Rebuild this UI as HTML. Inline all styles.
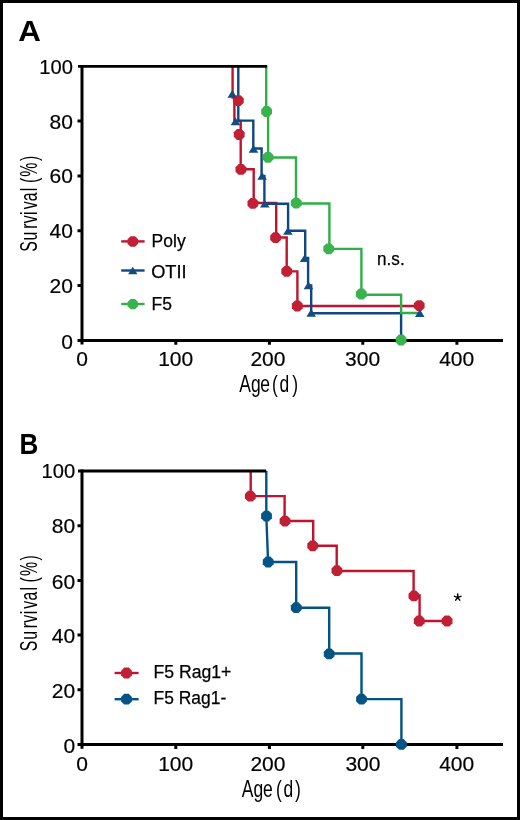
<!DOCTYPE html>
<html><head><meta charset="utf-8">
<style>
html,body{margin:0;padding:0;background:#fff;}
body{width:520px;height:820px;overflow:hidden;position:relative;}
svg{position:absolute;left:0;top:0;will-change:transform;}
text{font-family:"Liberation Sans",sans-serif;fill:#000;}
</style></head><body>
<svg width="520" height="820" viewBox="0 0 520 820">
<rect x="1.5" y="1.5" width="517" height="817" fill="#fff" stroke="#000" stroke-width="3"/>

<!-- ============ PANEL A ============ -->
<text transform="translate(18.3,41) scale(1.12,1.05)" font-size="28" font-weight="bold">A</text>

<!-- axes A -->
<g stroke="#000" stroke-width="3" fill="none" stroke-linecap="butt">
  <path d="M82,64.9 V344.6"/>
  <path d="M82,340.4 H503"/>
  <path d="M77.5,121.1 H82 M77.5,175.9 H82 M77.5,230.7 H82 M77.5,285.5 H82 M77.5,340.4 H82"/>
  <path d="M175.8,340.4 V344.8 M269.4,340.4 V344.8 M362.8,340.4 V344.8 M456.9,340.4 V344.8"/>
</g>
<!-- curves A -->
<g fill="none" stroke-width="2.4" stroke-linejoin="miter" stroke-linecap="butt">
  <path stroke="#BD1530" d="M232.6,66.3 V97.5 H234.4 V121 H240.7 V169.2 H253.7 V203 H276.2 V237.5 H286.7 V271.4 H297.4 V306 H419.2"/>
  <path stroke="#0F4780" d="M238.3,66.3 V120.6 H253.3 V148.5 H261.6 V176 H264.4 V203.7 H288.1 V230.7 H305.2 V258 H308.1 V285.5 H311.2 V313.2 H401.1 V340.4"/>
  <path stroke="#2FAF46" d="M266.2,66.3 V112 H268.1 V157.5 H296 V203.5 H329.4 V248.9 H361.4 V294.8 H401.1 V313 H419"/>
</g>
<!-- symbols A -->
<g fill="#3AB34E">
  <path d="M272.00,113.74 L268.84,116.90 L264.36,116.90 L261.20,113.74 L261.20,109.26 L264.36,106.10 L268.84,106.10 L272.00,109.26 Z"/><path d="M273.40,159.54 L270.24,162.70 L265.76,162.70 L262.60,159.54 L262.60,155.06 L265.76,151.90 L270.24,151.90 L273.40,155.06 Z"/><path d="M301.60,205.34 L298.44,208.50 L293.96,208.50 L290.80,205.34 L290.80,200.86 L293.96,197.70 L298.44,197.70 L301.60,200.86 Z"/>
  <path d="M334.10,251.04 L330.94,254.20 L326.46,254.20 L323.30,251.04 L323.30,246.56 L326.46,243.40 L330.94,243.40 L334.10,246.56 Z"/><path d="M366.70,296.24 L363.54,299.40 L359.06,299.40 L355.90,296.24 L355.90,291.76 L359.06,288.60 L363.54,288.60 L366.70,291.76 Z"/><path d="M406.50,342.24 L403.34,345.40 L398.86,345.40 L395.70,342.24 L395.70,337.76 L398.86,334.60 L403.34,334.60 L406.50,337.76 Z"/>
</g>
<g fill="#C11F33">
  <path d="M243.70,102.84 L240.54,106.00 L236.06,106.00 L232.90,102.84 L232.90,98.36 L236.06,95.20 L240.54,95.20 L243.70,98.36 Z"/><path d="M244.60,136.74 L241.44,139.90 L236.96,139.90 L233.80,136.74 L233.80,132.26 L236.96,129.10 L241.44,129.10 L244.60,132.26 Z"/><path d="M246.30,171.64 L243.14,174.80 L238.66,174.80 L235.50,171.64 L235.50,167.16 L238.66,164.00 L243.14,164.00 L246.30,167.16 Z"/>
  <path d="M258.30,205.64 L255.14,208.80 L250.66,208.80 L247.50,205.64 L247.50,201.16 L250.66,198.00 L255.14,198.00 L258.30,201.16 Z"/><path d="M281.00,239.94 L277.84,243.10 L273.36,243.10 L270.20,239.94 L270.20,235.46 L273.36,232.30 L277.84,232.30 L281.00,235.46 Z"/><path d="M292.10,273.54 L288.94,276.70 L284.46,276.70 L281.30,273.54 L281.30,269.06 L284.46,265.90 L288.94,265.90 L292.10,269.06 Z"/>
  <path d="M302.70,308.24 L299.54,311.40 L295.06,311.40 L291.90,308.24 L291.90,303.76 L295.06,300.60 L299.54,300.60 L302.70,303.76 Z"/><path d="M424.60,307.84 L421.44,311.00 L416.96,311.00 L413.80,307.84 L413.80,303.36 L416.96,300.20 L421.44,300.20 L424.60,303.36 Z"/>
</g>
<g fill="#124C83">
  <path d="M232.3,90.1 L237.1,97.7 L227.5,97.7 Z"/>
  <path d="M235.5,117.6 L240.3,125.2 L230.7,125.2 Z"/>
  <path d="M253.5,145.1 L258.3,152.7 L248.7,152.7 Z"/>
  <path d="M262.1,172.2 L266.9,179.8 L257.3,179.8 Z"/>
  <path d="M264.8,199.9 L269.6,207.5 L260.0,207.5 Z"/>
  <path d="M287.9,227.2 L292.7,234.8 L283.1,234.8 Z"/>
  <path d="M304.6,254.5 L309.4,262.1 L299.8,262.1 Z"/>
  <path d="M308.5,281.6 L313.3,289.2 L303.7,289.2 Z"/>
  <path d="M311.2,309.1 L316.0,316.7 L306.4,316.7 Z"/>
  <path d="M419.8,309.3 L424.6,316.9 L415.0,316.9 Z"/>
</g>

<path d="M78,66.3 H267.2" stroke="#000" stroke-width="2.8"/>
<g font-size="21" text-anchor="end" stroke="#000" stroke-width="0.2">
  <text x="72.9" y="73.6" textLength="33.6" lengthAdjust="spacingAndGlyphs">100</text>
  <text x="72.9" y="128.6">80</text>
  <text x="72.9" y="183.2">60</text>
  <text x="72.9" y="237.6">40</text>
  <text x="72.9" y="293.4">20</text>
  <text x="72.9" y="348.5">0</text>
</g>
<g font-size="21" text-anchor="middle" stroke="#000" stroke-width="0.2">
  <text x="82" y="366">0</text>
  <text x="175.7" y="366">100</text>
  <text x="267.9" y="366">200</text>
  <text x="362.6" y="366">300</text>
  <text x="456.7" y="366">400</text>
</g>
<text transform="translate(239,392.3) scale(0.76,1)" font-size="23" x="0.33 15.82 28.07 43.38 53.46 70.16" y="0">Age(d)</text>
<text transform="translate(36.7,251) rotate(-90) scale(0.66,1)" font-size="24" x="-1.14 16.05 33.67 42.03 54.61 63.09 75.45 90.62 102.93 112.69 136.36" y="0">Survival(%)</text>
<text x="377.1" y="264.5" font-size="18" textLength="27.6" lengthAdjust="spacingAndGlyphs" stroke="#000" stroke-width="0.25">n.s.</text>

<!-- legend A -->
<g stroke-width="2.4" fill="none">
  <path stroke="#BD1530" d="M121.2,241.4 H144.6"/>
  <path stroke="#0F4780" d="M121.2,270.5 H144.6"/>
  <path stroke="#2FAF46" d="M121.2,304 H144.6"/>
</g>
<path fill="#C11F33" d="M138.10,243.70 L135.00,246.80 L130.60,246.80 L127.50,243.70 L127.50,239.30 L130.60,236.20 L135.00,236.20 L138.10,239.30 Z"/>
<path d="M132.8,266.8 L137.5,274.2 L128.1,274.2 Z" fill="#124C83"/>
<path fill="#3AB34E" d="M138.00,306.25 L134.95,309.30 L130.65,309.30 L127.60,306.25 L127.60,301.95 L130.65,298.90 L134.95,298.90 L138.00,301.95 Z"/>
<g font-size="17.5" stroke="#000" stroke-width="0.25">
  <text x="151.6" y="247.2">Poly</text>
  <text x="151.2" y="277.9" textLength="35.4" lengthAdjust="spacingAndGlyphs">OTII</text>
  <text x="151.5" y="309.6">F5</text>
</g>

<!-- ============ PANEL B ============ -->
<text transform="translate(19.6,454) scale(0.93,1.03)" font-size="28" font-weight="bold">B</text>

<g stroke="#000" stroke-width="3" fill="none">
  <path d="M82,469.6 V748.8"/>
  <path d="M82,744.5 H503"/>
  <path d="M77.5,525.7 H82 M77.5,580.4 H82 M77.5,635.1 H82 M77.5,689.8 H82 M77.5,744.5 H82"/>
  <path d="M175.8,744.5 V748.9 M269.4,744.5 V748.9 M362.8,744.5 V748.9 M456.9,744.5 V748.9"/>
</g>
<g fill="none" stroke-width="2.4">
  <path stroke="#BD1530" d="M250.7,471 V496.1 H284.6 V521 H313.2 V545.8 H336.7 V571 H413.6 V595.5 H419.6 V621 H447"/>
  <path stroke="#025283" d="M266.3,471 V516 L268.1,562 H296.2 V607.7 H329.2 V653.5 H361.5 V699.1 H401.4 V744.4"/>
</g>
<g fill="#C11F33">
  <path d="M255.70,498.44 L252.54,501.60 L248.06,501.60 L244.90,498.44 L244.90,493.96 L248.06,490.80 L252.54,490.80 L255.70,493.96 Z"/><path d="M290.40,523.34 L287.24,526.50 L282.76,526.50 L279.60,523.34 L279.60,518.86 L282.76,515.70 L287.24,515.70 L290.40,518.86 Z"/><path d="M318.10,548.04 L314.94,551.20 L310.46,551.20 L307.30,548.04 L307.30,543.56 L310.46,540.40 L314.94,540.40 L318.10,543.56 Z"/>
  <path d="M342.30,572.94 L339.14,576.10 L334.66,576.10 L331.50,572.94 L331.50,568.46 L334.66,565.30 L339.14,565.30 L342.30,568.46 Z"/><path d="M419.30,598.14 L416.14,601.30 L411.66,601.30 L408.50,598.14 L408.50,593.66 L411.66,590.50 L416.14,590.50 L419.30,593.66 Z"/><path d="M424.60,623.24 L421.44,626.40 L416.96,626.40 L413.80,623.24 L413.80,618.76 L416.96,615.60 L421.44,615.60 L424.60,618.76 Z"/>
  <path d="M452.50,623.24 L449.34,626.40 L444.86,626.40 L441.70,623.24 L441.70,618.76 L444.86,615.60 L449.34,615.60 L452.50,618.76 Z"/>
</g>
<g fill="#045586">
  <path d="M271.90,518.34 L268.74,521.50 L264.26,521.50 L261.10,518.34 L261.10,513.86 L264.26,510.70 L268.74,510.70 L271.90,513.86 Z"/><path d="M273.60,564.24 L270.44,567.40 L265.96,567.40 L262.80,564.24 L262.80,559.76 L265.96,556.60 L270.44,556.60 L273.60,559.76 Z"/><path d="M301.60,609.94 L298.44,613.10 L293.96,613.10 L290.80,609.94 L290.80,605.46 L293.96,602.30 L298.44,602.30 L301.60,605.46 Z"/>
  <path d="M334.60,656.14 L331.44,659.30 L326.96,659.30 L323.80,656.14 L323.80,651.66 L326.96,648.50 L331.44,648.50 L334.60,651.66 Z"/><path d="M366.90,701.44 L363.74,704.60 L359.26,704.60 L356.10,701.44 L356.10,696.96 L359.26,693.80 L363.74,693.80 L366.90,696.96 Z"/><path d="M406.80,746.64 L403.64,749.80 L399.16,749.80 L396.00,746.64 L396.00,742.16 L399.16,739.00 L403.64,739.00 L406.80,742.16 Z"/>
</g>

<path d="M78,471 H266.2" stroke="#000" stroke-width="2.8"/>
<g font-size="21" text-anchor="end" stroke="#000" stroke-width="0.2">
  <text x="75.2" y="478.4" textLength="33.6" lengthAdjust="spacingAndGlyphs">100</text>
  <text x="75.2" y="533.4">80</text>
  <text x="75.2" y="588.6">60</text>
  <text x="75.2" y="643">40</text>
  <text x="75.2" y="698">20</text>
  <text x="75.2" y="753.3">0</text>
</g>
<g font-size="21" text-anchor="middle" stroke="#000" stroke-width="0.2">
  <text x="82" y="771">0</text>
  <text x="175.7" y="771">100</text>
  <text x="267.9" y="771">200</text>
  <text x="362.9" y="771">300</text>
  <text x="456.7" y="771">400</text>
</g>
<text transform="translate(242,797.1) scale(0.76,1)" font-size="23" x="-0.27 15.03 27.55 44.69 54.77 69.63" y="0">Age(d)</text>
<text transform="translate(36.7,650.4) rotate(-90) scale(0.66,1)" font-size="24" x="-1.14 16.05 33.67 42.03 54.61 63.09 75.45 90.62 102.93 112.69 136.36" y="0">Survival(%)</text>
<path d="M457.7,597.4 L457.70,594.00 M457.7,597.4 L460.93,596.35 M457.7,597.4 L459.70,600.15 M457.7,597.4 L455.70,600.15 M457.7,597.4 L454.47,596.35" stroke="#000" stroke-width="1.5" stroke-linecap="round" fill="none"/>

<g stroke-width="2.4" fill="none">
  <path stroke="#BD1530" d="M114.6,673 H138.6"/>
  <path stroke="#025283" d="M114.6,699.2 H138.6"/>
</g>
<path fill="#C11F33" d="M131.90,675.24 L128.74,678.40 L124.26,678.40 L121.10,675.24 L121.10,670.76 L124.26,667.60 L128.74,667.60 L131.90,670.76 Z"/>
<path fill="#045586" d="M131.90,701.44 L128.74,704.60 L124.26,704.60 L121.10,701.44 L121.10,696.96 L124.26,693.80 L128.74,693.80 L131.90,696.96 Z"/>
<g font-size="17.5" stroke="#000" stroke-width="0.25">
  <text x="153.6" y="677.8" textLength="77.8" lengthAdjust="spacingAndGlyphs">F5 Rag1+</text>
  <text x="153.6" y="704.1" textLength="72.6" lengthAdjust="spacingAndGlyphs">F5 Rag1-</text>
</g>
</svg>
</body></html>
